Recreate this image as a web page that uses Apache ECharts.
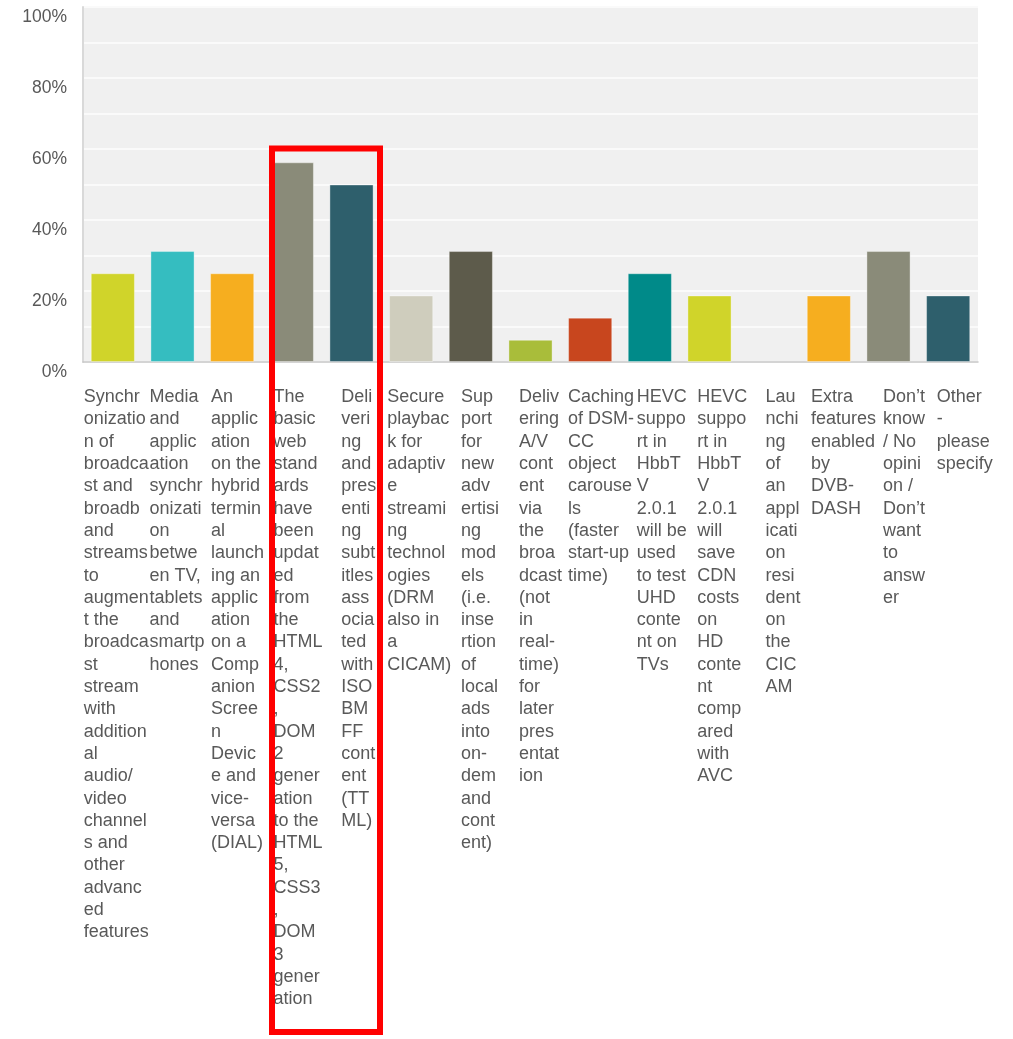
<!DOCTYPE html>
<html>
<head>
<meta charset="utf-8">
<script src="https://cdn.jsdelivr.net/npm/echarts@6/dist/echarts.min.js"></script>
<style>html,body{margin:0;padding:0;background:#fff;}#chart{width:1013px;height:1039px;}</style>
</head>
<body>
<div id="chart"></div>
<script>
var categories = [
  "Synchr\nonizatio\nn of\nbroadca\nst and\nbroadb\nand\nstreams\nto\naugmen\nt the\nbroadca\nst\nstream\nwith\naddition\nal\naudio/\nvideo\nchannel\ns and\nother\nadvanc\ned\nfeatures",
  "Media\nand\napplic\nation\nsynchr\nonizati\non\nbetwe\nen TV,\ntablets\nand\nsmartp\nhones",
  "An\napplic\nation\non the\nhybrid\ntermin\nal\nlaunch\ning an\napplic\nation\non a\nComp\nanion\nScree\nn\nDevic\ne and\nvice-\nversa\n(DIAL)",
  "The\nbasic\nweb\nstand\nards\nhave\nbeen\nupdat\ned\nfrom\nthe\nHTML\n4,\nCSS2\n,\nDOM\n2\ngener\nation\nto the\nHTML\n5,\nCSS3\n,\nDOM\n3\ngener\nation",
  "Deli\nveri\nng\nand\npres\nenti\nng\nsubt\nitles\nass\nocia\nted\nwith\nISO\nBM\nFF\ncont\nent\n(TT\nML)",
  "Secure\nplaybac\nk for\nadaptiv\ne\nstreami\nng\ntechnol\nogies\n(DRM\nalso in\na\nCICAM)",
  "Sup\nport\nfor\nnew\nadv\nertisi\nng\nmod\nels\n(i.e.\ninse\nrtion\nof\nlocal\nads\ninto\non-\ndem\nand\ncont\nent)",
  "Deliv\nering\nA/V\ncont\nent\nvia\nthe\nbroa\ndcast\n(not\nin\nreal-\ntime)\nfor\nlater\npres\nentat\nion",
  "Caching\nof DSM-\nCC\nobject\ncarouse\nls\n(faster\nstart-up\ntime)",
  "HEVC\nsuppo\nrt in\nHbbT\nV\n2.0.1\nwill be\nused\nto test\nUHD\nconte\nnt on\nTVs",
  "HEVC\nsuppo\nrt in\nHbbT\nV\n2.0.1\nwill\nsave\nCDN\ncosts\non\nHD\nconte\nnt\ncomp\nared\nwith\nAVC",
  "Lau\nnchi\nng\nof\nan\nappl\nicati\non\nresi\ndent\non\nthe\nCIC\nAM",
  "Extra\nfeatures\nenabled\nby\nDVB-\nDASH",
  "Don\u2019t\nknow\n/ No\nopini\non /\nDon\u2019t\nwant\nto\nansw\ner",
  "Other\n-\nplease\nspecify"
];
var values = [25, 31.25, 25, 56.25, 50, 18.75, 31.25, 6.25, 12.5, 25, 18.75, 0, 18.75, 31.25, 18.75];
var barColors = ["#d0d42a", "#35bdc0", "#f6ae1f", "#8a8b79", "#2e5f6c", "#cfcdbd", "#5d5b4b", "#a9bd3a", "#c8461e", "#008a89", "#d0d42a", "#d0d42a", "#f6ae1f", "#8a8b79", "#2e5f6c"];
var yTicks = [0, 20, 40, 60, 80, 100];

var chart = echarts.init(document.getElementById('chart'), null, {renderer: 'canvas'});
var font = "'Liberation Sans', Arial, sans-serif";

chart.setOption({
  animation: false,
  grid: [
    {left: 83, right: 35, top: 7, bottom: 677, show: true, backgroundColor: '#f0f0f0', borderWidth: 0},
    {left: 86, right: 18, top: 7, bottom: 677, show: false}
  ],
  xAxis: [
    {
      type: 'category', gridIndex: 0, data: categories,
      axisLine: {show: true, lineStyle: {color: '#c8c8c8', width: 1.5}},
      axisTick: {show: false},
      axisLabel: {show: false}
    },
    {
      type: 'category', gridIndex: 1, data: categories,
      axisLine: {show: false}, axisTick: {show: false},
      axisLabel: {
        show: true, interval: 0, margin: 24, align: 'center', verticalAlign: 'top',
        hideOverlap: false,
        formatter: function (v) {
          return v.split('\n').map(function (l) { return '{a|' + l + '}'; }).join('\n');
        },
        rich: {a: {align: 'left', fontSize: 18, lineHeight: 22.3, color: '#595959', fontFamily: font}}
      }
    }
  ],
  yAxis: [
    {
      type: 'value', gridIndex: 0, min: 0, max: 100, interval: 10,
      axisLine: {show: true, lineStyle: {color: '#d9d9d9', width: 2}},
      axisTick: {show: false},
      splitLine: {show: true, lineStyle: {color: '#fafafa', width: 2}},
      axisLabel: {
        margin: 16, color: '#595959', fontSize: 17.5, fontFamily: font,
        verticalAlign: 'top', padding: [1, 0, 0, 0],
        formatter: function (v) { return yTicks.indexOf(v) >= 0 ? v + '%' : ''; }
      }
    },
    {type: 'value', gridIndex: 1, min: 0, max: 100, show: false}
  ],
  series: [{
    type: 'bar', xAxisIndex: 0, yAxisIndex: 0,
    barWidth: '74%',
    data: values.map(function (v, i) {
      return {value: v, itemStyle: {color: barColors[i], borderColor: 'rgba(255,255,255,0.35)', borderWidth: v > 0 ? 1 : 0}};
    })
  }],
  graphic: [{
    type: 'rect', silent: true, z: 100,
    shape: {x: 272, y: 148.5, width: 108, height: 883.5},
    style: {fill: 'none', stroke: '#ff0000', lineWidth: 6}
  }]
});
</script>
</body>
</html>
